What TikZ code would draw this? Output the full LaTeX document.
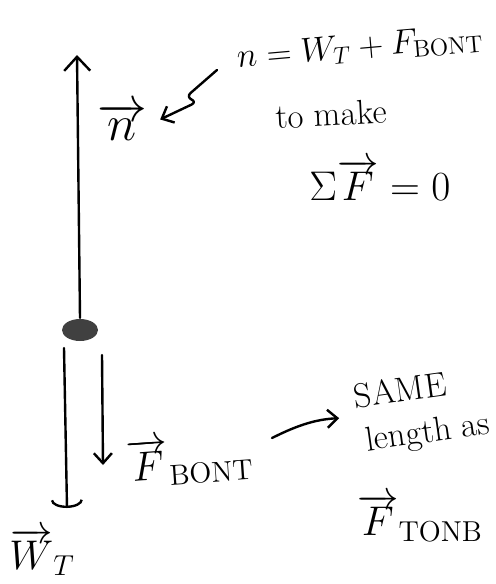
\documentclass[tikz,border=0pt]{standalone}
\usetikzlibrary{arrows.meta,shapes.geometric}

\begin{document}
\begin{tikzpicture}[x=0.5pt,y=-0.5pt,line width=1.2pt,line cap=round,line join=round,
  force/.style={-{Straight Barb[length=7pt,width=13pt]}},
  note/.style={-{Straight Barb[length=5pt,width=9pt]}}]
  \useasboundingbox (0,0) rectangle (496,584);
  % the object
  \node[ellipse,fill=black!75,minimum width=18pt,minimum height=11pt,inner sep=0pt] (obj) at (80,330) {};
  % normal force up
  \coordinate (ntip) at (77,55);
  \draw[force] (obj.north) -- (ntip);
  \node[font=\Huge] (nlab) at (122,122) {$\overrightarrow{n}$};
  % weight and force of B on T, both down
  \coordinate (wtop) at (64,348);
  \coordinate (wtip) at (67,508);
  \draw[-{Arc Barb[length=4pt,width=16pt]}] (wtop) -- (wtip);
  \node[font=\huge] (wlab) at (42,552) {$\overrightarrow{W}_{T}$};
  \coordinate (btop) at (102,355);
  \coordinate (btip) at (103,465);
  \draw[note] (btop) -- (btip);
  \node[font=\huge,rotate=4] (blab) at (190,460) {$\overrightarrow{F}_{\mathrm{BONT}}$};
  % notes on the right
  \node[font=\LARGE,rotate=5] (eq) at (360,48) {$n=W_T+F_{\mathrm{BONT}}$};
  \node[font=\LARGE,rotate=3] (make) at (331,114) {to make};
  \node[font=\huge] (sum) at (380,180) {$\Sigma\overrightarrow{F}=0$};
  \coordinate (sqstart) at (217,70);
  \draw[note,rounded corners=3pt,shorten >=3pt] (sqstart) -- (186,97) -- (197,102) -- (nlab.east);
  \node[font=\LARGE,rotate=8] (same) at (400,390) {SAME};
  \node[font=\LARGE,rotate=8] (len) at (428,434) {length as};
  \node[font=\huge] (tonb) at (420,518) {$\overrightarrow{F}_{\mathrm{TONB}}$};
  \coordinate (sastart) at (272,438);
  \draw[note,shorten >=5pt] (sastart) to[bend left=12] (same.south west);
\end{tikzpicture}
\end{document}
